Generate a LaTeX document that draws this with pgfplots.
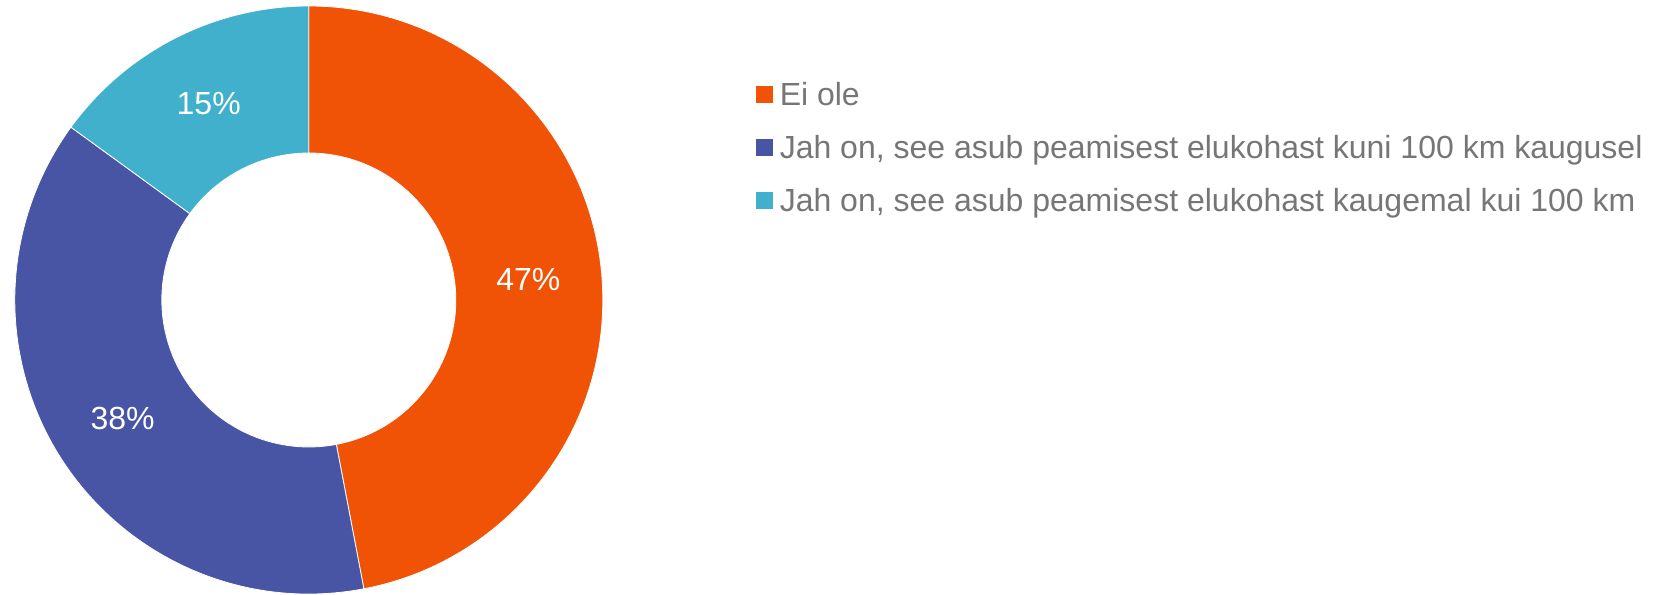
\documentclass[border=0pt]{standalone}
\usepackage{fontspec}
\setmainfont{Liberation Sans}
\usepackage{pgfplots}
\usepackage{pgfplotstable}
\pgfplotsset{compat=1.18}

\definecolor{cOrange}{RGB}{240,83,6}
\definecolor{cBlue}{RGB}{72,85,165}
\definecolor{cCyan}{RGB}{64,176,204}
\definecolor{textgray}{RGB}{118,118,118}

% share of answers, clockwise from 12 o'clock
\pgfplotstableread[col sep=semicolon]{
value;col
47;cOrange
38;cBlue
15;cCyan
}\donutdata

\begin{document}
\fontsize{16}{19}\selectfont
\begin{tikzpicture}
\begin{axis}[
    hide axis,
    scale only axis,
    width=294pt, height=294pt,
    xmin=-1, xmax=1, ymin=-1, ymax=1,
    at={(154.4pt,147pt)}, anchor=center,
    legend style={
        at={(axis description cs:1.2605,0.8722)}, anchor=north west,
        draw=none, fill=none, inner sep=0pt, outer sep=0pt,
        font=\fontsize{16}{19}\selectfont, text=textgray,
        row sep=11pt, column sep=0pt,
        nodes={inner sep=0pt, text height=12pt, text depth=3.5pt},
        /tikz/every odd column/.append style={column sep=3.5pt},
    },
    legend cell align=left,
]
\pgfplotstablegetrowsof{\donutdata}
\pgfmathtruncatemacro\lastrow{\pgfplotsretval-1}
\def\cum{0}
\pgfplotsforeachungrouped \i in {0,...,\lastrow}{
    \pgfplotstablegetelem{\i}{value}\of\donutdata
    \let\sliceval\pgfplotsretval
    \pgfplotstablegetelem{\i}{col}\of\donutdata
    \let\slicecol\pgfplotsretval
    \pgfmathsetmacro\sa{90-3.6*\cum}
    \pgfmathsetmacro\ea{90-3.6*(\cum+\sliceval)}
    \pgfmathsetmacro\ma{(\sa+\ea)/2}
    \edef\temp{\noexpand\fill[\slicecol, draw=white, line width=0.4pt]
        (axis cs:{cos(\sa)},{sin(\sa)}) arc[start angle=\sa, end angle=\ea, radius=147pt]
        -- (axis cs:{0.5*cos(\ea)},{0.5*sin(\ea)}) arc[start angle=\ea, end angle=\sa, radius=73.5pt]
        -- cycle;
        \noexpand\node[text=white, inner sep=0pt] at (axis cs:{0.75*cos(\ma)},{0.75*sin(\ma)}) {\sliceval\noexpand\%};}
    \temp
    \pgfmathsetmacro\cum{\cum+\sliceval}
}
\addlegendimage{legend image code/.code={\fill[cOrange] (0pt,-2.75pt) rectangle (8pt,5.25pt);}}
\addlegendentry{Ei ole}
\addlegendimage{legend image code/.code={\fill[cBlue] (0pt,-2.75pt) rectangle (8pt,5.25pt);}}
\addlegendentry{Jah on, see asub peamisest elukohast kuni 100 km kaugusel}
\addlegendimage{legend image code/.code={\fill[cCyan] (0pt,-2.75pt) rectangle (8pt,5.25pt);}}
\addlegendentry{Jah on, see asub peamisest elukohast kaugemal kui 100 km}
\end{axis}
\pgfresetboundingbox
\path (0,0) rectangle (832pt,297pt);
\end{tikzpicture}
\end{document}
